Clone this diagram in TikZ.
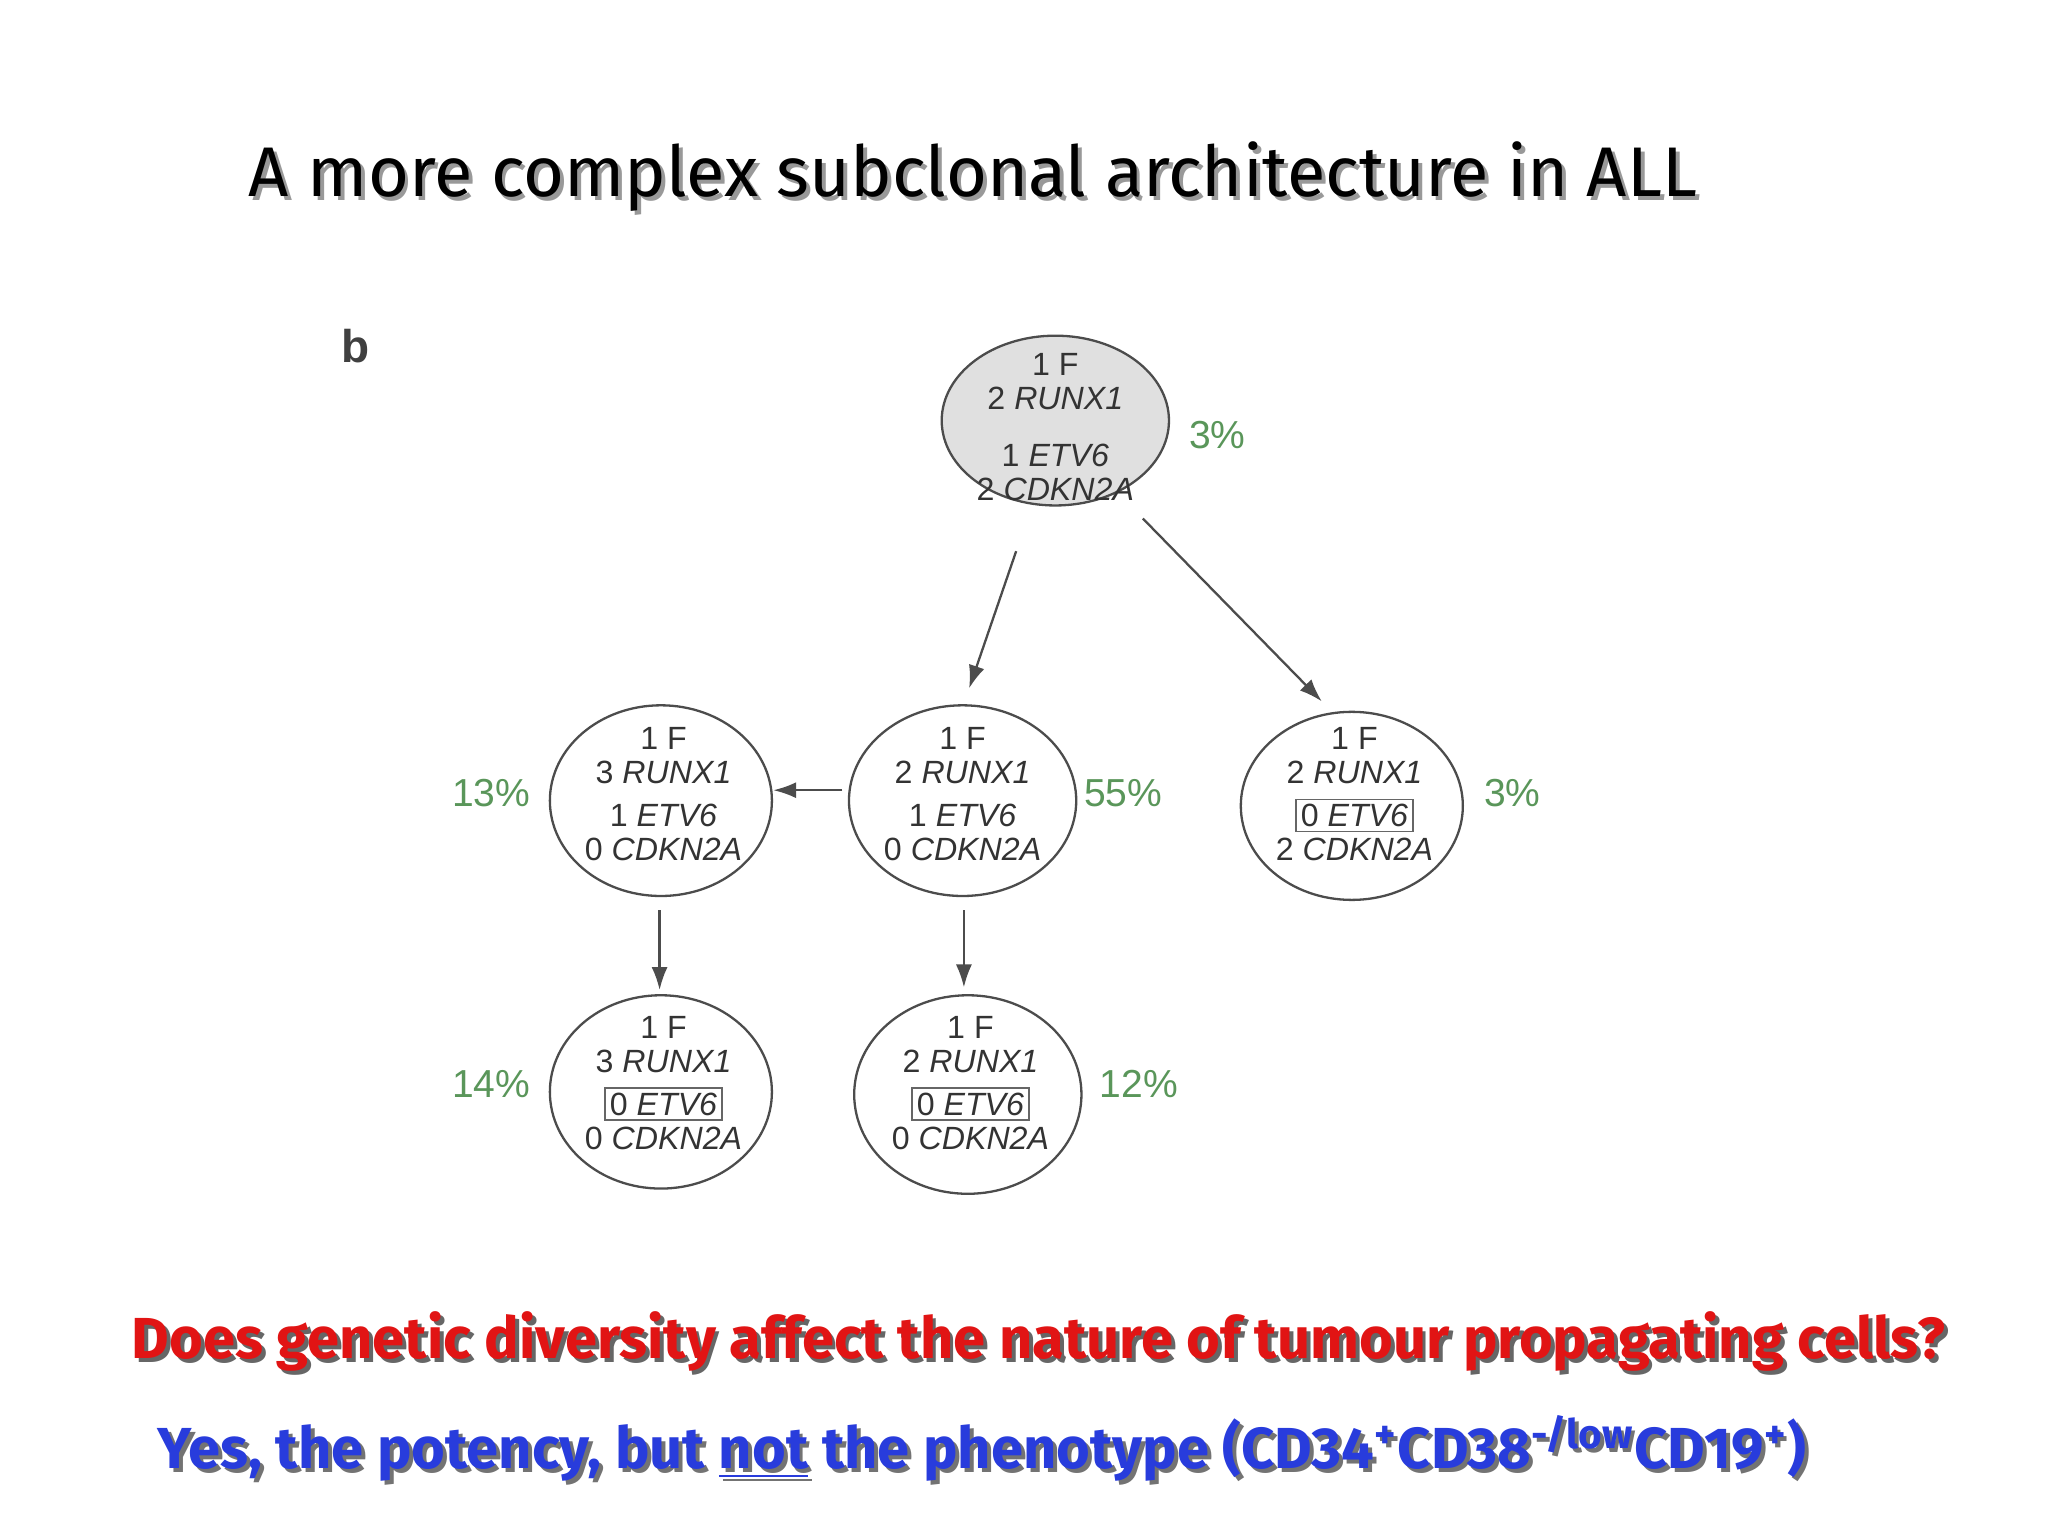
\documentclass[tikz,border=0pt]{standalone}
\usepackage{fontspec}
\setmainfont{Liberation Sans}
\newfontfamily\titlefont{Fira Sans}
\usetikzlibrary{arrows.meta}
\definecolor{pctgreen}{RGB}{90,150,90}
\definecolor{qred}{RGB}{225,20,20}
\definecolor{ablue}{RGB}{40,60,220}
\begin{document}
\begin{tikzpicture}[x=0.01cm,y=-0.01cm,
  clone/.style={draw=black!70,line width=0.5pt},
  lab/.style={font=\fontsize{7}{7.4}\selectfont,text=black!80,align=center,inner sep=0pt},
  pct/.style={font=\fontsize{8.5}{9}\selectfont,text=pctgreen,inner sep=0pt},
  arr/.style={draw=black!70,line width=0.5pt,-{Latex[length=5pt,width=3.5pt]}},
  boxed/.style={draw=black!60,inner sep=1pt},
  big/.style={font=\titlefont\bfseries\fontsize{12.6}{15}\selectfont}]
\useasboundingbox (0,0) rectangle (1568,1176);
\node[font=\titlefont\fontsize{15.3}{18}\selectfont,text=black!40] at (748,138) {A more complex subclonal architecture in ALL};
\node[font=\titlefont\fontsize{15.3}{18}\selectfont] (title) at (745,135) {A more complex subclonal architecture in ALL};
\node[font=\bfseries\fontsize{10}{11}\selectfont,text=black!75] (b) at (272,265) {b};
% nodes
\draw[clone,fill=black!12] (808,322) ellipse (87 and 65);
\node[lab] (n0) at (808,327) {1 F\\2 \textit{RUNX1}\\[5pt]1 \textit{ETV6}\\2 \textit{CDKN2A}};
\draw[clone] (506,613) ellipse (85 and 73);
\node[lab] (n1) at (508,608) {1 F\\3 \textit{RUNX1}\\[2pt]1 \textit{ETV6}\\0 \textit{CDKN2A}};
\draw[clone] (737,613) ellipse (87 and 73);
\node[lab] (n2) at (737,608) {1 F\\2 \textit{RUNX1}\\[2pt]1 \textit{ETV6}\\0 \textit{CDKN2A}};
\draw[clone] (1035,617) ellipse (85 and 72);
\node[lab] (n3) at (1037,608) {1 F\\2 \textit{RUNX1}\\[2pt]\tikz[baseline=(x.base)]\node[boxed](x){0 \textit{ETV6}};\\2 \textit{CDKN2A}};
\draw[clone] (506,836) ellipse (85 and 74);
\node[lab] (n4) at (508,829) {1 F\\3 \textit{RUNX1}\\[2pt]\tikz[baseline=(x.base)]\node[boxed](x){0 \textit{ETV6}};\\0 \textit{CDKN2A}};
\draw[clone] (741,838) ellipse (87 and 76);
\node[lab] (n5) at (743,829) {1 F\\2 \textit{RUNX1}\\[2pt]\tikz[baseline=(x.base)]\node[boxed](x){0 \textit{ETV6}};\\0 \textit{CDKN2A}};
% percentages
\node[pct] (p0) at (932,333) {3\%};
\node[pct] (p1) at (376,607) {13\%};
\node[pct] (p2) at (860,607) {55\%};
\node[pct] (p3) at (1158,607) {3\%};
\node[pct] (p4) at (376,830) {14\%};
\node[pct] (p5) at (872,830) {12\%};
% arrows
\coordinate (a0s) at (778,422); \coordinate (a0e) at (742,527);
\coordinate (a1s) at (875,397); \coordinate (a1e) at (1012,537);
\coordinate (a2s) at (645,605); \coordinate (a2e) at (592,605);
\coordinate (a3s) at (505,697); \coordinate (a3e) at (505,758);
\coordinate (a4s) at (738,697); \coordinate (a4e) at (738,756);
\draw[arr] (a0s) -- (a0e);
\draw[arr] (a1s) -- (a1e);
\draw[arr] (a2s) -- (a2e);
\draw[arr] (a3s) -- (a3e);
\draw[arr] (a4s) -- (a4e);
% bottom text
\node[big,text=black!60] at (798,1030) {Does genetic diversity affect the nature of tumour propagating cells?};
\node[big,text=qred] (q) at (795,1027) {Does genetic diversity affect the nature of tumour propagating cells?};
\node[big,text=black!55] at (755,1112) {Yes, the potency, but \underline{not} the phenotype (CD34\textsuperscript{+}CD38\textsuperscript{-/low}CD19\textsuperscript{+})};
\node[big,text=ablue] (ans) at (752,1109) {Yes, the potency, but \underline{not} the phenotype (CD34\textsuperscript{+}CD38\textsuperscript{-/low}CD19\textsuperscript{+})};
\end{tikzpicture}
\end{document}
